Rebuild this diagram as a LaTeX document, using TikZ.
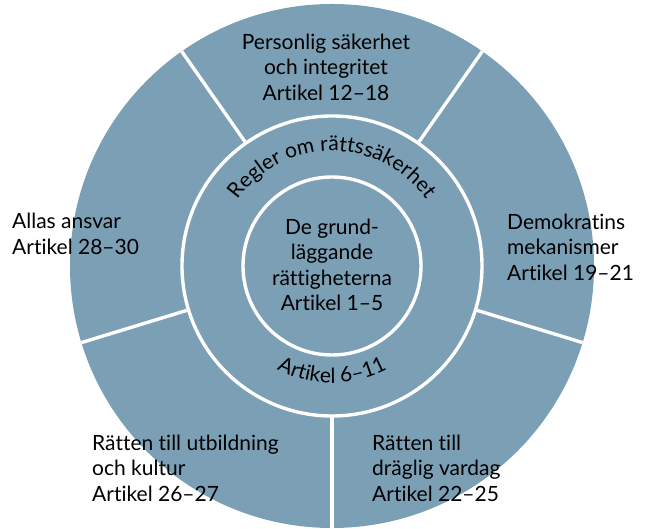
\documentclass[tikz,border=0pt]{standalone}
\usepackage{fontspec}
\setmainfont{Lato}[Ligatures={NoCommon}]
\usepackage{tikz}
\usetikzlibrary{calc, positioning}
\usetikzlibrary{decorations.text}
\definecolor{ringblue}{RGB}{123,159,181}
\newcommand{\ringfont}{\fontsize{21}{25.5}\selectfont}
\tikzset{
    ringline/.style={draw=white, line width=3.4pt},% white circles and dividers between the fields
    field/.style={align=left, anchor=west, inner sep=0pt, font=\ringfont},
}

\begin{document}
\begin{tikzpicture}[x=1pt, y=1pt]
    \useasboundingbox (0,0) rectangle (648,529);
    \clip (0,0) rectangle (648,529);
    \coordinate (c) at (332,263);

    \fill[ringblue] (c) circle[radius=262];
    \draw[ringline] (c) circle[radius=150];
    \draw[ringline] (c) circle[radius=89];
    \foreach \a in {55,125,197,270,343} {
        \draw[ringline] ($(c)+(\a:150)$) -- ($(c)+(\a:262)$);
    }

    % curved labels in the middle ring
    \path[decorate, decoration={text along path, text align=center,
        text={|\ringfont|Regler om rättssäkerhet}}]
        ($(c)+(162:115)$) arc[start angle=162, end angle=18, radius=115];
    \path[decorate, decoration={text along path, text align=center,
        text={|\ringfont|Artikel 6–11}}]
        ($(c)+(235:117)$) arc[start angle=235, end angle=305, radius=117];

    \node[align=center, inner sep=0pt, font=\ringfont] (core) at ($(c)+(0,1)$)
        {De grund-\\läggande\\rättigheterna\\Artikel 1–5};
    \node[align=center, inner sep=0pt, font=\ringfont] (personlig) at (326,462)
        {Personlig säkerhet\\och integritet\\Artikel 12–18};
    \node[field] (allas) at (12,295) {Allas ansvar\\Artikel 28–30};
    \node[field] (demokrati) at (507,282) {Demokratins\\mekanismer\\Artikel 19–21};
    \node[field] (utbildning) at (92,61) {Rätten till utbildning\\och kultur\\Artikel 26–27};
    \node[field] (vardag) at (372,61) {Rätten till\\dräglig vardag\\Artikel 22–25};
\end{tikzpicture}
\end{document}
